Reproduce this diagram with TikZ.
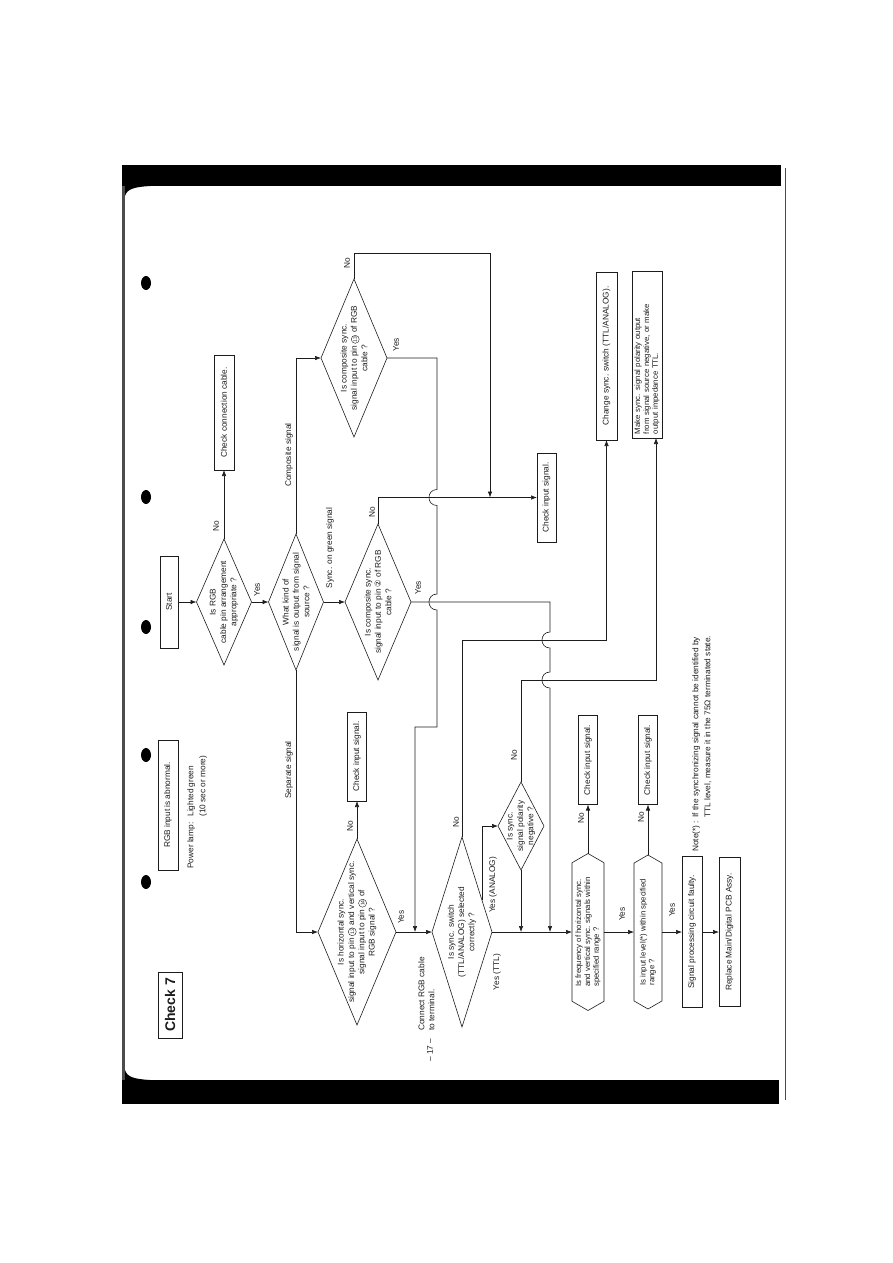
\documentclass[tikz,border=0pt]{standalone}
\usepackage{fontspec}
\setmainfont{Liberation Sans}
\newfontfamily\dejavu{DejaVu Sans}
\usepackage{xcolor}
\usepackage{tikz}
\usetikzlibrary{arrows.meta,shapes.geometric,shapes.symbols,calc}
\definecolor{inch}{HTML}{1C1C1C}
\newcommand{\piccolo}{\fontsize{8.3}{10.3}\selectfont}
\newcommand{\minuto}{\fontsize{7.8}{8.8}\selectfont}
\newcommand{\pinno}[1]{{\dejavu #1}}
\newcommand{\cerchio}[1]{\tikz[baseline=(cn.base)]\node[circle, draw, line width=0.4pt, inner sep=0.2pt, minimum size=8pt, font=\fontsize{5}{5}\selectfont] (cn) {#1};}

\begin{document}
\begin{tikzpicture}[x=1pt, y=-1pt, line width=0.6pt, color=inch,
  freccia/.style={-{Latex[length=6pt,width=4.5pt]}},
  rombo/.style={diamond, draw, rotate=90, inner sep=0pt, outer sep=0pt},
  esagono/.style={signal, signal to=east and west, signal pointer angle=120, draw, rotate=90, inner sep=0.5pt, outer sep=0pt, align=left, font=\minuto},
  riquadro/.style={rectangle, draw, rotate=90, inner sep=0pt, outer sep=0pt, align=center, font=\piccolo},
  testo/.style={rotate=90, align=center, font=\piccolo, inner sep=0pt},
  sino/.style={rotate=90, font=\piccolo, inner sep=0pt}]
  \useasboundingbox (0,0) rectangle (893,1263);
  % Cornice
  \fill[black] (122,165) rectangle (781,186);
  \fill[black] (125,186) -- (150,186) .. controls (134,187) and (127,189) .. (125,196) -- cycle;
  \fill[black] (122,1080) rectangle (779,1104);
  \fill[black] (125,1080) -- (150,1080) .. controls (134,1079) and (127,1077) .. (125,1070) -- cycle;
  \fill[black!70] (122,186) rectangle (125,1080);
  \draw[black!70, line width=1pt] (785,168) -- (785,1100);
  % Fori
  \foreach \y in {283,497,627,755,882}
    \fill[black] (146,\y) ellipse [x radius=5, y radius=7];
  % Riquadri
  \node[riquadro, minimum width=66pt, minimum height=24pt, line width=0.9pt, font=\fontsize{14}{14}\selectfont\bfseries] (chk7) at (170,1005) {Check 7};
  \node[riquadro, minimum width=130pt, minimum height=20pt] (abn) at (168,805) {RGB input is abnormal.};
  \node[testo, anchor=north west, align=left, font=\fontsize{8.3}{12}\selectfont] (lamp) at (187,869) {Power lamp:\hspace{6pt}Lighted green\\\phantom{Power lamp:\hspace{6pt}}(10 sec or more)};
  \node[riquadro, minimum width=92pt, minimum height=18pt] (start) at (169,602) {Start};
  \node[riquadro, minimum width=115pt, minimum height=20pt] (conn) at (224,412.5) {Check connection cable.};
  \foreach \n/\x/\y in {cis1/546.5/497.5, cis2/357/756.5, cis3/588/760, cis4/648/760}
    \node[riquadro, minimum width=89pt, minimum height=19pt] (\n) at (\x,\y) {Check input signal.};
  \node[riquadro, minimum width=168pt, minimum height=21pt] (chg) at (606.5,356) {Change sync. switch (TTL/ANALOG).};
  \node[riquadro, minimum width=167pt, minimum height=30pt, text width=159pt, align=left, font=\minuto] (mk) at (647,354.5) {Make sync. signal polarity output\\from signal source negative, or make\\output impedance TTL.};
  \node[riquadro, minimum width=151pt, minimum height=20pt] (sigf) at (692,932) {Signal processing circuit faulty.};
  \node[riquadro, minimum width=149pt, minimum height=21pt] (rep) at (729.5,932) {Replace Main/Digital PCB Assy.};
  % Rombi
  \node[rombo, minimum width=126pt, minimum height=55pt] (rgb) at (224,602) {};
  \node[testo] (trgb) at (rgb) {Is RGB\\cable pin arrangement\\appropriate ?};
  \node[rombo, minimum width=136pt, minimum height=55pt] (what) at (296,602) {};
  \node[testo] (twhat) at (what) {What kind of\\signal is output from signal\\source ?};
  \node[rombo, minimum width=158pt, minimum height=66pt] (c13) at (354,358) {};
  \node[testo] (tc13) at (c13) {Is composite sync.\\signal input to pin \cerchio{13} of RGB\\cable ?};
  \node[rombo, minimum width=156pt, minimum height=66pt] (p2) at (378,602) {};
  \node[testo] (tp2) at (p2) {Is composite sync.\\signal input to pin \pinno{②} of RGB\\cable ?};
  \node[rombo, minimum width=186pt, minimum height=78pt] (hs) at (357,932) {};
  \node[testo] (ths) at (hs) {Is horizontal sync.\\signal input to pin \cerchio{13} and vertical sync.\\signal input to pin \cerchio{14} of\\RGB signal ?};
  \node[rombo, minimum width=190pt, minimum height=60pt] (swt) at (462,932) {};
  \node[testo] (tswt) at (swt) {Is sync. switch\\(TTL/ANALOG) selected\\correctly ?};
  \node[rombo, minimum width=88pt, minimum height=46pt] (pol) at (521,826) {};
  \node[testo] (tpol) at (pol) {Is sync.\\signal polarity\\negative ?};
  % Esagoni
  \node[esagono, minimum width=157pt, minimum height=32pt] (freq) at (588,932) {Is frequency of horizontal sync.\\and vertical sync. signals within\\specified range ?};
  \node[esagono, minimum width=154pt, minimum height=28pt] (inp) at (648,932) {Is input level(*) within specified\\range ?};
  % Scritte
  \foreach \x/\y/\t [count=\i] in {216/526/No, 257/590/Yes, 347/263/No, 396/345/Yes, 372/512/No, 418/588/Yes, 350/826/No, 401/917/Yes, 456/822/No, 514/755/No, 581/818/No, 622/914/Yes, 641/817/No, 672/910/Yes}
    \node[sino] (yn\i) at (\x,\y) {\t};
  \foreach \n/\x/\y/\t in {comp/289/455/Composite signal, sepa/289/770/Separate signal, verde/330/548/Sync. on green signal, analog/493/885/Yes (ANALOG), ttl/497/972/Yes (TTL)}
    \node[sino] (\n) at (\x,\y) {\t};
  \node[testo, anchor=north west, align=left, font=\fontsize{8.3}{10}\selectfont] (cavo) at (418,1031) {Connect RGB cable\\to terminal.};
  \node[testo, anchor=north west, align=left, font=\fontsize{8.3}{12}\selectfont] (nota) at (692,852) {Note(*) : If the synchronizing signal cannot be identified by\\\phantom{Note(*) : }TTL level, measure it in the 75Ω terminated state.};
  \node[sino] (pag) at (430,1050) {– 17 –};
  % Collegamenti
  \coordinate (jA) at (490,497.5);
  \coordinate (jB) at (415,932);
  \coordinate (jC) at (521,932);
  \coordinate (jD) at (550,932);
  \coordinate (yA) at ($(swt.east)!0.66!(swt.south)$);
  \coordinate (mkin) at ($(mk.south west)!0.2!(mk.north west)$);
  \draw[freccia] (start.south) -- (rgb.north);
  \draw[freccia] (rgb.south) -- (what.north);
  \draw[freccia] (rgb.east) -- (conn.west);
  \draw[freccia] (what.east) |- (c13.north);
  \draw[freccia] (what.south) -- (p2.north);
  \draw[freccia] (what.west) |- (hs.north);
  \draw[freccia] (c13.east) -- (354,253) -| (jA);
  \draw[freccia] (c13.south) -- (437,358) -- (437,489.5) .. controls (426.3,489.5) and (426.3,505.5) .. (437,505.5)
    -- (437,594) .. controls (426.3,594) and (426.3,610) .. (437,610) -- (437,727) -- (415,727) -- (jB);
  \draw[freccia] (p2.east) |- (cis1.north);
  \draw[freccia] (p2.south) -- (550,602) -- (550,632) .. controls (539.3,632) and (539.3,648) .. (550,648)
    -- (550,672) .. controls (539.3,672) and (539.3,688) .. (550,688) -- (jD);
  \draw[freccia] (hs.south) -- (swt.north);
  \draw[freccia] (hs.east) -- (cis2.west);
  \draw[freccia] (swt.south) -- (freq.north);
  \draw[freccia] (yA) |- (pol.north);
  \draw[freccia] (pol.west) -- (jC);
  \draw[freccia] (swt.east) -- (462,640) -| (chg.west);
  \draw[freccia] (pol.east) -- (521,680) -| (mkin);
  \draw[freccia] (freq.south) -- (inp.north);
  \draw[freccia] (freq.east) -- (cis3.west);
  \draw[freccia] (inp.south) -- (sigf.north);
  \draw[freccia] (inp.east) -- (cis4.west);
  \draw[freccia] (sigf.south) -- (rep.north);
\end{tikzpicture}
\end{document}
